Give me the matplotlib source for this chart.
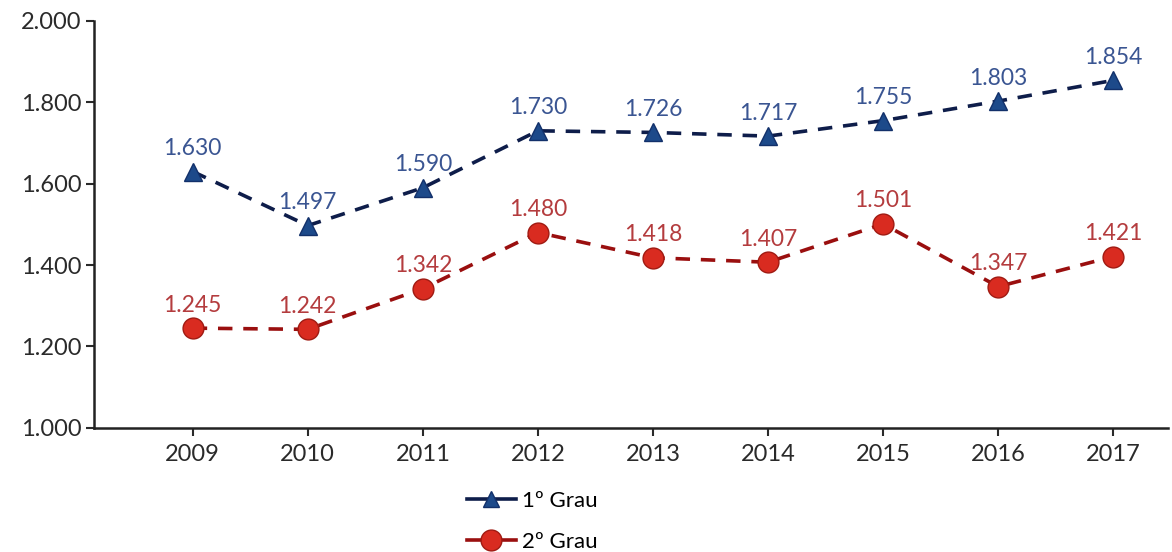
import matplotlib.pyplot as plt
from matplotlib import rcParams
from matplotlib.lines import Line2D

rcParams['font.family'] = ['Lato', 'DejaVu Sans']

anos = ['2009', '2010', '2011', '2012', '2013', '2014', '2015', '2016', '2017']
grau1 = [1630, 1497, 1590, 1730, 1726, 1717, 1755, 1803, 1854]
grau2 = [1245, 1242, 1342, 1480, 1418, 1407, 1501, 1347, 1421]


def fmt(v):
    # thousands separator with a dot
    return '{:,}'.format(v).replace(',', '.')


fig = plt.figure(figsize=(11.72, 5.52), dpi=100)
ax = fig.add_axes([0.080, 0.225, 0.917, 0.737])

x = list(range(len(anos)))

ax.plot(x, grau1, linestyle=(0, (4, 3)), color='#0e1d4a', linewidth=2.6,
        marker='^', markersize=13, markerfacecolor='#1d4a8a',
        markeredgecolor='#12306a')
ax.plot(x, grau2, linestyle=(0, (4, 3)), color='#9a0f0f', linewidth=2.6,
        marker='o', markersize=15, markerfacecolor='#d92b20',
        markeredgecolor='#a01a12')

for xi, v in zip(x, grau1):
    ax.annotate(fmt(v), (xi, v), xytext=(0, 9), textcoords='offset points',
                ha='center', va='bottom', fontsize=16.5, color='#3a5592')
for xi, v in zip(x, grau2):
    ax.annotate(fmt(v), (xi, v), xytext=(0, 9), textcoords='offset points',
                ha='center', va='bottom', fontsize=16.5, color='#b43c3e')

ax.set_ylim(1000, 2000)
ax.set_yticks(range(1000, 2001, 200))
ax.set_yticklabels([fmt(t) for t in range(1000, 2001, 200)])
ax.set_xlim(-0.86, len(anos) - 1 + 0.48)
ax.set_xticks(x)
ax.set_xticklabels(anos)

for s in ['top', 'right']:
    ax.spines[s].set_visible(False)
for s in ['left', 'bottom']:
    ax.spines[s].set_linewidth(1.8)
    ax.spines[s].set_color('#222222')

ax.tick_params(axis='y', length=6, width=1.5, labelsize=17, pad=3, colors='#2a2a2a')
ax.tick_params(axis='x', length=6, width=1.5, labelsize=17, pad=6, colors='#2a2a2a')

handles = [
    Line2D([], [], color='#0e1d4a', linewidth=2.6, marker='^', markersize=12,
           markerfacecolor='#1d4a8a', markeredgecolor='#12306a'),
    Line2D([], [], color='#9a0f0f', linewidth=2.6, marker='o', markersize=15,
           markerfacecolor='#d92b20', markeredgecolor='#a01a12'),
]
ax.legend(handles, ['1º Grau', '2º Grau'], loc='upper center',
          bbox_to_anchor=(0.408, -0.105), frameon=False, fontsize=16,
          handlelength=2.2, handletextpad=0.3, labelspacing=0.95)

fig.savefig('out.png', dpi=100)
